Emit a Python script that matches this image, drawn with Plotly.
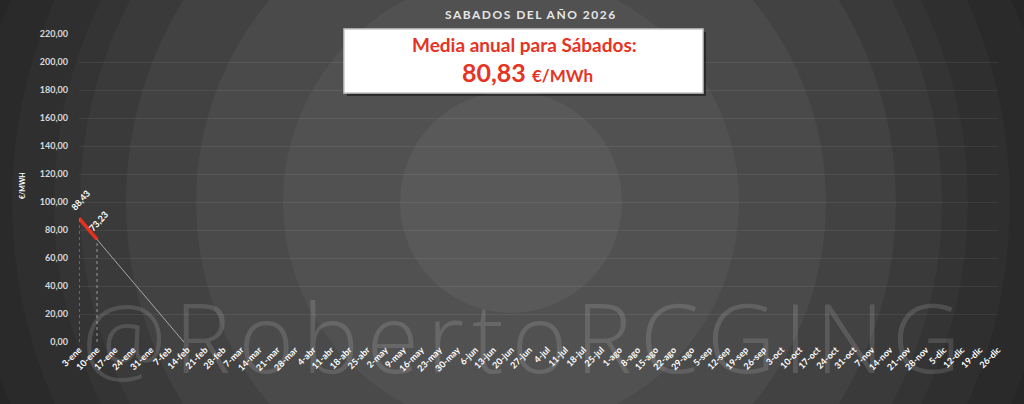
import numpy as np
import plotly.graph_objects as go

# Saturdays of 2026
semanas = ['3-ene', '10-ene', '17-ene', '24-ene', '31-ene', '7-feb', '14-feb', '21-feb', '28-feb',
           '7-mar', '14-mar', '21-mar', '28-mar', '4-abr', '11-abr', '18-abr', '25-abr',
           '2-may', '9-may', '16-may', '23-may', '30-may', '6-jun', '13-jun', '20-jun', '27-jun',
           '4-jul', '11-jul', '18-jul', '25-jul', '1-ago', '8-ago', '15-ago', '22-ago', '29-ago',
           '5-sep', '12-sep', '19-sep', '26-sep', '3-oct', '10-oct', '17-oct', '24-oct', '31-oct',
           '7-nov', '14-nov', '21-nov', '28-nov', '5-dic', '12-dic', '19-dic', '26-dic']
precios = [88.43, 73.23]
media_anual = 80.83
titulo = 'SABADOS DEL AÑO 2026'
marca = '@RobertoRCGING'

W, H = 1024, 404
# plot area in pixels
L, R, T, B = 79, 998, 34, 342


def px(x):
    return (x - L) / (R - L)


def py(y):
    return (B - y) / (B - T)


x_idx = list(range(len(precios)))

# linear trendline of the series (forward forecast clipped at 0)
m, b = np.polyfit(x_idx, precios, 1)
x_fin = -b / m

fig = go.Figure()

fig.add_trace(go.Scatter(x=[0, x_fin], y=[b, 0], mode='lines',
                         line=dict(color='#a8a8a8', width=1), hoverinfo='skip'))
fig.add_trace(go.Scatter(x=x_idx, y=precios, mode='lines',
                         line=dict(color='#e8301c', width=3.5)))

shapes = []
# background: concentric rings
cx, cy = 511, 202
radios = [640, 540, 499, 457, 431, 385, 315, 228, 111]
colores = ['#262626', '#2a2a2a', '#2f2f2f', '#343434', '#3a3a3a', '#424242', '#4a4a4a', '#515151', '#595959']
for r, c in zip(radios, colores):
    shapes.append(dict(type='circle', xref='paper', yref='paper', layer='below',
                       x0=px(cx - r), x1=px(cx + r), y0=py(cy + r), y1=py(cy - r),
                       fillcolor=c, line=dict(width=0)))

# drop lines
for i, v in zip(x_idx, precios):
    shapes.append(dict(type='line', xref='x', yref='y', x0=i, x1=i, y0=0, y1=v,
                       line=dict(color='#9a9a9a', width=1, dash='dot')))

# white box with shadow
shapes.append(dict(type='rect', xref='paper', yref='paper', x0=px(347), x1=px(706),
                   y0=py(96), y1=py(32), fillcolor='rgba(0,0,0,0.45)', line=dict(width=0)))
shapes.append(dict(type='rect', xref='paper', yref='paper', x0=px(344), x1=px(703),
                   y0=py(93), y1=py(29), fillcolor='white', line=dict(color='#c8c8c8', width=1.5)))

annotations = []
for i, v in zip(x_idx, precios):
    annotations.append(dict(x=i, y=v, xref='x', yref='y', text=f'{v:.2f}'.replace('.', ','),
                            showarrow=False, textangle=-48, xshift=1, yshift=18,
                            font=dict(family='Lato', size=9, color='white', weight='bold')))


def nota(x, y, texto, fuente, angulo=0):
    return dict(x=px(x), y=py(y), xref='paper', yref='paper', xanchor='center', yanchor='middle',
                text=texto, showarrow=False, textangle=angulo, font=fuente)


annotations += [
    nota(531, 15, "<span style='letter-spacing:1.5px'>" + titulo + '</span>',
         dict(family='Lato', size=12, color='#e6e6e6', weight='bold')),
    nota(524, 45, 'Media anual para Sábados:',
         dict(family='Lato', size=19, color='#e63323', weight='bold')),
    nota(527, 72, f'{media_anual:.2f}'.replace('.', ',') + " <span style='font-size:17px'>€/MWh</span>",
         dict(family='Lato', size=25, color='#e63323', weight='bold')),
    nota(22, 186, '€/MWH', dict(family='Lato', size=7, color='white', weight='bold'), -90),
    nota(525, 336, "<span style='letter-spacing:8px'>" + marca + '</span>',
         dict(family='Open Sans', size=95, color='rgba(255,255,255,0.13)', weight=300)),
]

fig.update_layout(
    width=W, height=H,
    margin=dict(l=L, r=W - R, t=T, b=H - B),
    paper_bgcolor='#232323',
    plot_bgcolor='rgba(0,0,0,0)',
    separators=',.',
    showlegend=False,
    shapes=shapes,
    annotations=annotations,
    xaxis=dict(range=[0, len(semanas) - 1], tickvals=list(range(len(semanas))), ticktext=semanas,
               tickangle=-45, showgrid=False, zeroline=False, showline=False, ticks='',
               tickfont=dict(family='Lato', size=9, color='white', weight='bold')),
    yaxis=dict(range=[0, 220], dtick=20, tickformat='.2f', showgrid=True,
               gridcolor='rgba(255,255,255,0.07)', gridwidth=1, zeroline=False, showline=False,
               ticks='', ticklabelstandoff=10,
               tickfont=dict(family='Lato', size=9, color='#d9d9d9', weight='bold')),
)

fig.write_html('out.html', config={'displayModeBar': False},
               post_script="document.body.style.margin='0';")
